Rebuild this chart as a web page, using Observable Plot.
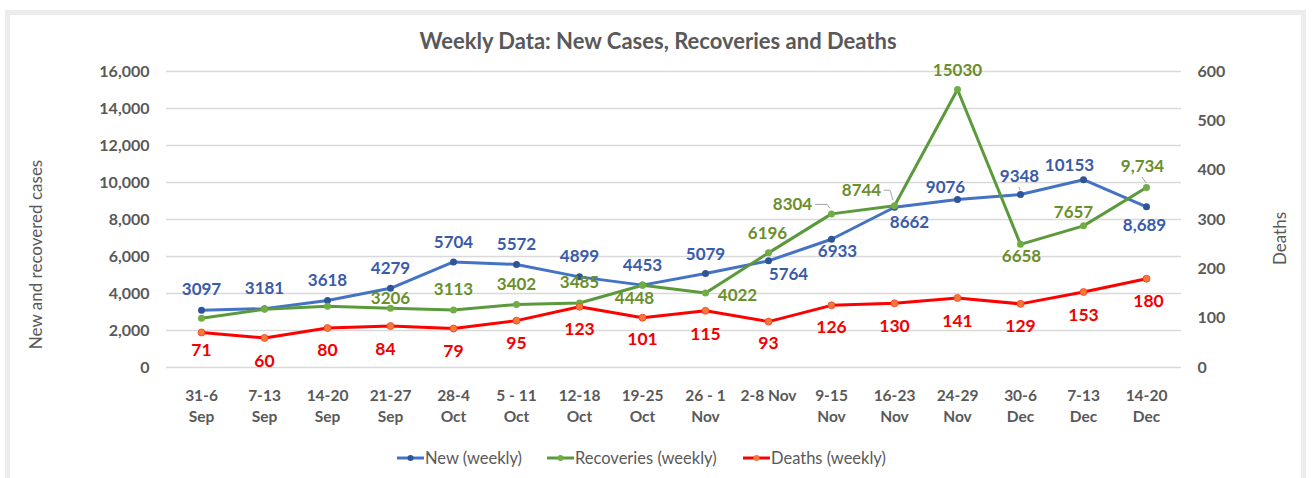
<!DOCTYPE html>
<html>
<head>
<meta charset="utf-8">
<script src="https://cdn.jsdelivr.net/npm/d3@7"></script>
<script src="https://cdn.jsdelivr.net/npm/@observablehq/plot@0.6"></script>
<style>
  html, body { margin: 0; padding: 0; background: #ffffff; }
  body { width: 1314px; height: 478px; position: relative; overflow: hidden; font-family: Lato, "Open Sans", sans-serif; }
  #frame { position: absolute; left: 5px; top: 10px; width: 1291px; height: 480px; border: 5px solid #ececec; }
  #chart { position: absolute; left: 0; top: 0; }
  #title { position: absolute; left: 0; top: 27px; width: 1316px; text-align: center; font-weight: 700; font-size: 22px; color: #595959; line-height: 28px; }
  .legend-item { position: absolute; top: 447px; height: 22px; display: flex; align-items: center; font-size: 16.5px; color: #595959; white-space: nowrap; }
  .legend-item svg { margin-right: 1px; }
</style>
</head>
<body>
<div id="frame"></div>
<div id="chart"></div>
<div id="title">Weekly Data: New Cases, Recoveries and Deaths</div>
<div id="legend"></div>
<script>
// ---------- data ----------
const categories = ["31-6\nSep","7-13\nSep","14-20\nSep","21-27\nSep","28-4\nOct","5 - 11\nOct","12-18\nOct","19-25\nOct","26 - 1\nNov","2-8 Nov","9-15\nNov","16-23\nNov","24-29\nNov","30-6\nDec","7-13\nDec","14-20\nDec"];
const newWeekly = [3097,3181,3618,4279,5704,5572,4899,4453,5079,5764,6933,8662,9076,9348,10153,8689];
const recoveriesWeekly = [2665,3150,3315,3206,3113,3402,3485,4448,4022,6196,8304,8744,15030,6658,7657,9734];
const deathsWeekly = [71,60,80,84,79,95,123,101,115,93,126,130,141,129,153,180];

const newLabels = ["3097","3181","3618","4279","5704","5572","4899","4453","5079","5764","6933","8662","9076","9348","10153","8,689"];
const recoveriesLabels = [null,null,null,"3206","3113","3402","3485","4448","4022","6196","8304","8744","15030","6658","7657","9,734"];
const deathsLabels = ["71","60","80","84","79","95","123","101","115","93","126","130","141","129","153","180"];

const leftTicks = [0,2000,4000,6000,8000,10000,12000,14000,16000];
const rightTicks = [0,100,200,300,400,500,600];
const seriesNames = ["New (weekly)","Recoveries (weekly)","Deaths (weekly)"];

// label nudges [dx, dy] in px (placement only)
const newNudge = [[0,-21],[0,-20],[0,-20],[0,-20],[0,-19],[0,-20],[0,-20],[0,-20],[0,-19],[20,14],[6,12],[15,15],[-12,-12],[-1,-18],[-14,-14],[-2,19]];
const recNudge = [null,null,null,[0,-10],[0,-20],[0,-20],[0,-20],[-8,13],[32,2],[-1,-19],[-39,-9],[-33,-15],[0,-19],[1,12],[-10,-13],[-4,-21]];
const deathNudge = [[0,18],[0,23],[0,22],[-5,23],[0,23],[0,23],[0,23],[0,22],[0,24],[0,22],[0,22],[0,23],[0,23],[0,23],[0,23],[2,23]];
const newLeaders = [13];
const recLeaders = [10,11,15];

// ---------- build ----------
const leftMax = 16000, rightMax = 600, k = leftMax / rightMax;
const colors = {
  newLine: "#4472C4", newDot: "#2F5597", newText: "#3A5BA9",
  recLine: "#5B9A3C", recDot: "#70AD47", recText: "#6A8F2C",
  deathLine: "#FF0000", deathDot: "#F07A3A", deathText: "#F20000"
};

const rowsNew = categories.map((c, i) => ({cat: c, v: newWeekly[i], y: newWeekly[i], label: newLabels[i], nudge: newNudge[i]}));
const rowsRec = categories.map((c, i) => ({cat: c, v: recoveriesWeekly[i], y: recoveriesWeekly[i], label: recoveriesLabels[i], nudge: recNudge[i]}));
const rowsDeath = categories.map((c, i) => ({cat: c, v: deathsWeekly[i], y: deathsWeekly[i] * k, label: deathsLabels[i], nudge: deathNudge[i]}));

function labelMarks(rows, fill, size) {
  return rows.filter(d => d.label != null).map(d =>
    Plot.text([d], {x: "cat", y: "y", text: "label", dx: d.nudge[0], dy: d.nudge[1],
      fill, fontSize: size, fontWeight: 700, fontFamily: "Lato"}));
}

function leaderMark(rows, idxs) {
  return (index, scales) => {
    const g = d3.create("svg:g").attr("fill", "none").attr("stroke", "#a6a6a6").attr("stroke-width", 1);
    for (const i of idxs) {
      const d = rows[i];
      const px = scales.x(d.cat), py = scales.y(d.y);
      const lx = px + d.nudge[0], ly = py + d.nudge[1];
      const hw = d.label.length * 4.95;
      let pts;
      if (Math.abs(d.nudge[0]) > 25) {
        pts = [[lx + hw + 3, ly], [px - 4, ly], [px - 1, py - 5]];
      } else {
        pts = [[lx, ly + 11], [px, py - 4]];
      }
      g.append("path").attr("d", "M" + pts.map(p => p.join(",")).join("L"));
    }
    return g.node();
  };
}

const plot = Plot.plot({
  width: 1314,
  height: 478,
  marginLeft: 166,
  marginRight: 133,
  marginTop: 71,
  marginBottom: 111,
  style: {fontFamily: "Lato", color: "#595959", background: "transparent", overflow: "visible"},
  x: {type: "point", domain: categories, padding: 0.5},
  y: {domain: [0, leftMax]},
  marks: [
    Plot.gridY(leftTicks, {stroke: "#d9d9d9", strokeOpacity: 1, strokeWidth: 1.5}),
    Plot.axisY(leftTicks, {anchor: "left", tickSize: 0, tickPadding: 17, tickFormat: d3.format(","), fontSize: 16, fontWeight: 700, label: null}),
    Plot.axisY(rightTicks.map(t => t * k), {anchor: "right", tickSize: 0, tickPadding: 16, tickFormat: d => d3.format("d")(Math.round(d / k)), fontSize: 16, fontWeight: 700, textAnchor: "start", label: null}),
    Plot.axisX({tickSize: 0, tickPadding: 18, fontSize: 15.5, fontWeight: 700, lineHeight: 1.38, label: null}),
    Plot.text(["New and recovered cases"], {frameAnchor: "left", textAnchor: "middle", dx: -130, dy: 35, rotate: -90, fontSize: 17, fill: "#595959"}),
    Plot.text(["Deaths"], {frameAnchor: "right", textAnchor: "middle", dx: 99, dy: 19, rotate: -90, fontSize: 17, fill: "#595959"}),
    Plot.line(rowsNew, {x: "cat", y: "y", stroke: colors.newLine, strokeWidth: 3}),
    Plot.dot(rowsNew, {x: "cat", y: "y", r: 3.5, fill: colors.newDot}),
    Plot.line(rowsRec, {x: "cat", y: "y", stroke: colors.recLine, strokeWidth: 3}),
    Plot.dot(rowsRec, {x: "cat", y: "y", r: 3.5, fill: colors.recDot}),
    Plot.line(rowsDeath, {x: "cat", y: "y", stroke: colors.deathLine, strokeWidth: 3}),
    Plot.dot(rowsDeath, {x: "cat", y: "y", r: 3.5, fill: colors.deathDot, stroke: "#ff3b1f", strokeWidth: 0.8}),
    leaderMark(rowsNew, newLeaders),
    leaderMark(rowsRec, recLeaders),
    ...labelMarks(rowsNew, colors.newText, 17),
    ...labelMarks(rowsRec, colors.recText, 17),
    ...labelMarks(rowsDeath, colors.deathText, 17.5)
  ]
});
document.getElementById("chart").appendChild(plot);

// legend
const legendLeft = [397, 547, 743];
const legendColors = [[colors.newLine, colors.newDot], [colors.recLine, colors.recDot], [colors.deathLine, colors.deathDot]];
const legend = document.getElementById("legend");
seriesNames.forEach((name, i) => {
  const item = document.createElement("div");
  item.className = "legend-item";
  item.style.left = legendLeft[i] + "px";
  item.innerHTML = `<svg width="27" height="10"><line x1="0" y1="5" x2="27" y2="5" stroke="${legendColors[i][0]}" stroke-width="3"/><circle cx="13.5" cy="5" r="3" fill="${legendColors[i][1]}"/></svg><span>${name}</span>`;
  legend.appendChild(item);
});
</script>
</body>
</html>
